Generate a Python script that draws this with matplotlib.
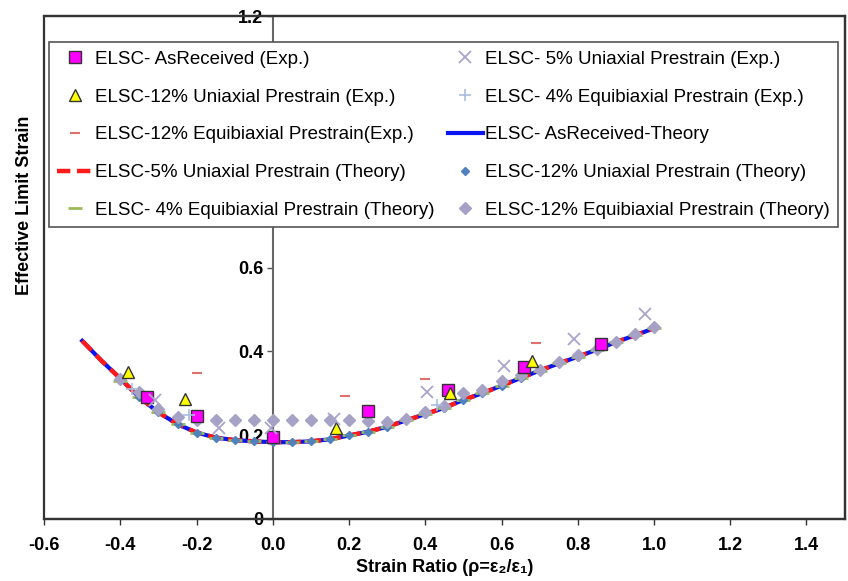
import numpy as np
import matplotlib
matplotlib.use("Agg")
from matplotlib import pyplot as plt
from matplotlib.ticker import FuncFormatter

# experimental points
asrec_exp_x = [-0.33, -0.20, 0.0, 0.25, 0.46, 0.66, 0.86]
asrec_exp_y = [0.290, 0.245, 0.196, 0.257, 0.307, 0.363, 0.417]

uni12_exp_x = [-0.38, -0.23, 0.165, 0.465, 0.68]
uni12_exp_y = [0.350, 0.285, 0.218, 0.300, 0.378]

equi12_exp_x = [-0.20, 0.19, 0.40, 0.69]
equi12_exp_y = [0.348, 0.294, 0.333, 0.419]

uni5_exp_x = [-0.31, -0.14, -0.005, 0.16, 0.405, 0.607, 0.79, 0.977]
uni5_exp_y = [0.283, 0.217, 0.217, 0.238, 0.304, 0.366, 0.430, 0.488]

equi4_exp_x = [-0.37, -0.22, 0.43]
equi4_exp_y = [0.310, 0.247, 0.272]

# theory curves
theory_x = [-0.50, -0.45, -0.40, -0.35, -0.30, -0.25, -0.20, -0.15, -0.10, -0.05,
            0.00, 0.05, 0.10, 0.15, 0.20, 0.25, 0.30, 0.35, 0.40, 0.45,
            0.50, 0.55, 0.60, 0.65, 0.70, 0.75, 0.80, 0.85, 0.90, 0.95, 1.00]
asrec_theory = [0.425, 0.378, 0.335, 0.290, 0.254, 0.226, 0.206, 0.194, 0.188, 0.185,
                0.183, 0.183, 0.185, 0.190, 0.199, 0.208, 0.220, 0.235, 0.250, 0.265,
                0.284, 0.300, 0.318, 0.336, 0.354, 0.371, 0.387, 0.404, 0.422, 0.438, 0.455]
uni5_theory = [0.425, 0.378, 0.335, 0.290, 0.254, 0.226, 0.206, 0.194, 0.188, 0.185,
               0.183, 0.183, 0.185, 0.190, 0.199, 0.208, 0.220, 0.235, 0.250, 0.265,
               0.284, 0.300, 0.318, 0.336, 0.354, 0.371, 0.387, 0.404, 0.422, 0.438, 0.455]

pts_x = [-0.40, -0.35, -0.30, -0.25, -0.20, -0.15, -0.10, -0.05,
         0.00, 0.05, 0.10, 0.15, 0.20, 0.25, 0.30, 0.35, 0.40, 0.45,
         0.50, 0.55, 0.60, 0.65, 0.70, 0.75, 0.80, 0.85, 0.90, 0.95, 1.00]
uni12_theory = [0.333, 0.290, 0.254, 0.226, 0.206, 0.194, 0.188, 0.185,
                0.183, 0.183, 0.185, 0.190, 0.199, 0.208, 0.220, 0.235, 0.250, 0.265,
                0.284, 0.300, 0.318, 0.336, 0.354, 0.371, 0.387, 0.404, 0.422, 0.438, 0.455]
equi4_theory = [0.330, 0.290, 0.254, 0.226, 0.206, 0.194, 0.188, 0.185,
                0.183, 0.183, 0.185, 0.190, 0.199, 0.208, 0.220, 0.235, 0.250, 0.265,
                0.284, 0.300, 0.318, 0.336, 0.354, 0.371, 0.387, 0.404, 0.422, 0.438, 0.455]
equi12_theory = [0.335, 0.303, 0.262, 0.242, 0.236, 0.236, 0.236, 0.236,
                 0.236, 0.236, 0.236, 0.236, 0.236, 0.234, 0.232, 0.238, 0.254, 0.270,
                 0.300, 0.308, 0.330, 0.344, 0.356, 0.374, 0.390, 0.405, 0.423, 0.441, 0.458]

xticks = [-0.6, -0.4, -0.2, 0.0, 0.2, 0.4, 0.6, 0.8, 1.0, 1.2, 1.4]
yticks = [0, 0.2, 0.4, 0.6, 0.8, 1.0, 1.2]
hidden_yticks = [0.8, 1.0]   # covered by the legend in the original

plt.rcParams['font.family'] = ['Liberation Sans', 'DejaVu Sans']

fig = plt.figure(figsize=(8.48, 5.81), dpi=100)
ax = fig.add_axes([0.052, 0.107, 0.944, 0.865])

ax.plot(asrec_exp_x, asrec_exp_y, ls='none', marker='s', ms=8, mfc='#ff00ff', mec='#333333',
        mew=1.0, label='ELSC- AsReceived (Exp.)', zorder=6)
ax.plot(uni12_exp_x, uni12_exp_y, ls='none', marker='^', ms=9, mfc='#ffff00', mec='#333333',
        mew=1.0, label='ELSC-12% Uniaxial Prestrain (Exp.)', zorder=6)
ax.plot(equi12_exp_x, equi12_exp_y, ls='none', marker='_', ms=7, mec='#e07070', mew=1.5,
        label='ELSC-12% Equibiaxial Prestrain(Exp.)', zorder=6)
ax.plot(theory_x, uni5_theory, ls=(0, (3, 1.5)), lw=3.2, color='#ff1a1a',
        label='ELSC-5% Uniaxial Prestrain (Theory)', zorder=3)
ax.plot(pts_x, equi4_theory, ls='none', marker='_', ms=10, mec='#9bbb59', mew=2,
        label='ELSC- 4% Equibiaxial Prestrain (Theory)', zorder=4)
ax.plot(uni5_exp_x, uni5_exp_y, ls='none', marker='x', ms=9, mec='#aaa4cc', mew=1.3,
        label='ELSC- 5% Uniaxial Prestrain (Exp.)', zorder=6)
ax.plot(equi4_exp_x, equi4_exp_y, ls='none', marker='+', ms=9, mec='#a8bede', mew=1.2,
        label='ELSC- 4% Equibiaxial Prestrain (Exp.)', zorder=6)
ax.plot(theory_x, asrec_theory, ls='-', lw=3, color='#0a14f0',
        label='ELSC- AsReceived-Theory', zorder=2)
ax.plot(pts_x, uni12_theory, ls='none', marker='D', ms=4.5, mfc='#4f81bd', mec='#4f81bd',
        label='ELSC-12% Uniaxial Prestrain (Theory)', zorder=4.5)
ax.plot(pts_x, equi12_theory, ls='none', marker='D', ms=6.5, mfc='#a6a2c6', mec='#a6a2c6',
        label='ELSC-12% Equibiaxial Prestrain (Theory)', zorder=5)

ax.set_xlim(-0.6, 1.5)
ax.set_ylim(0, 1.2)

# y axis sits at x = 0, box drawn around the whole plot
ax.spines['left'].set_position(('data', 0))
ax.spines['left'].set_color('#666666')
ax.spines['left'].set_linewidth(1.5)
for s in ['top', 'right', 'bottom']:
    ax.spines[s].set_color('#333333')
    ax.spines[s].set_linewidth(1.6)
ax.patch.set_edgecolor('#333333')
ax.patch.set_linewidth(1.6)


def ylab(v, p):
    if v == 0:
        return '0'
    if any(abs(v - h) < 1e-9 for h in hidden_yticks):
        return ''
    return '%.1f' % v


ax.set_xticks(xticks)
ax.set_yticks(yticks)
ax.xaxis.set_major_formatter(FuncFormatter(lambda v, p: '%.1f' % v))
ax.yaxis.set_major_formatter(FuncFormatter(ylab))
ax.tick_params(axis='x', direction='out', length=4, width=1, colors='#333333', pad=9)
ax.tick_params(axis='y', direction='out', length=4, width=1, colors='#555555', pad=3)
for lab in ax.get_xticklabels() + ax.get_yticklabels():
    lab.set_fontweight('bold')
    lab.set_fontsize(13)
    lab.set_color('black')

ax.set_xlabel('Strain Ratio (ρ=ε₂/ε₁)', fontsize=13, fontweight='bold', labelpad=4)
ax.set_ylabel('Effective Limit Strain', fontsize=13, fontweight='bold')
ax.yaxis.set_label_coords(-0.014, 0.624)

leg = ax.legend(ncol=2, loc='upper left', bbox_to_anchor=(0.006, 0.58, 0.986, 0.368),
                mode='expand', fontsize=13.5, frameon=True, fancybox=False,
                edgecolor='#555555', framealpha=1, labelspacing=1.1, handlelength=1.9,
                handletextpad=0.1, borderpad=0.45, borderaxespad=0, numpoints=1)
leg.get_frame().set_linewidth(1.2)

fig.savefig('out.png', dpi=100)
